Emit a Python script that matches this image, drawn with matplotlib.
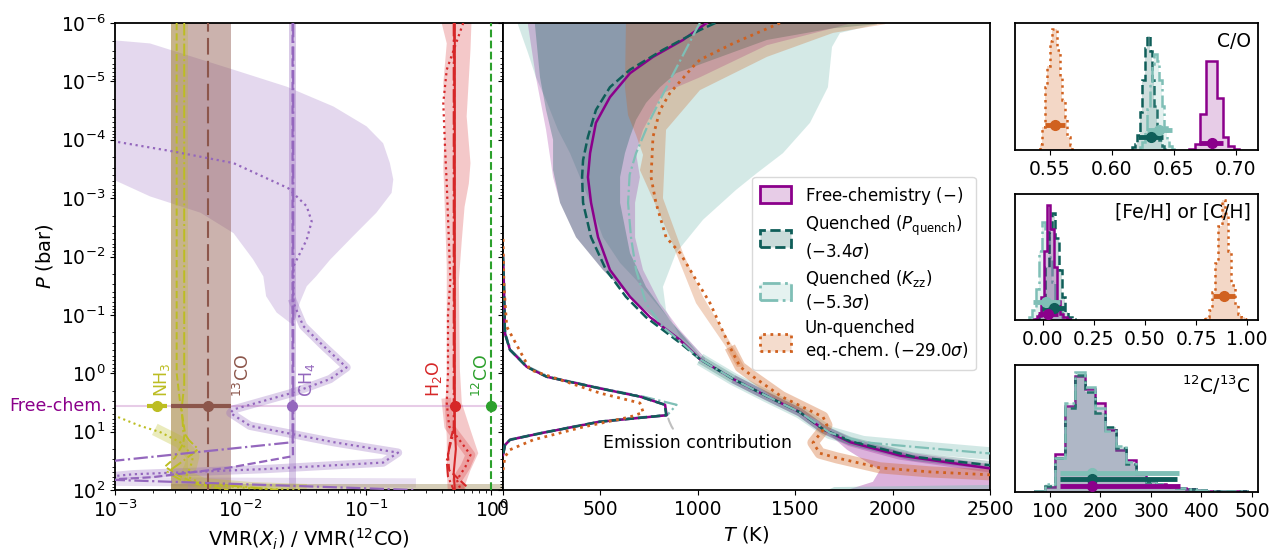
import numpy as np
import matplotlib
matplotlib.use('Agg')
import matplotlib.pyplot as plt
from matplotlib.patches import Patch

plt.rcParams['font.family'] = ['DejaVu Sans']
plt.rcParams['font.size'] = 12
plt.rcParams['xtick.labelsize'] = 13.5
plt.rcParams['ytick.labelsize'] = 13.5
plt.rcParams['axes.linewidth'] = 1.3

# ---------------- colours ----------------
C_FREE = '#8b008b'
C_PQ = '#0f5e59'
C_KZZ = '#7fbfb6'
C_EQ = '#d0611f'
C_NH3 = '#bcbd22'
C_13CO = '#8c564b'
C_CH4 = '#9467bd'
C_H2O = '#d62728'
C_12CO = '#2ca02c'

# ================= LEFT PANEL DATA (VMR / VMR(12CO), log10 P) =================
species = ['NH$_3$', '$^{13}$CO', 'CH$_4$', 'H$_2$O', '$^{12}$CO']
species_col = [C_NH3, C_13CO, C_CH4, C_H2O, C_12CO]
free_val = [2.15e-3, 5.5e-3, 0.0256, 0.51, 1.0]
free_lo = [1.8e-3, 2.8e-3, 0.0248, 0.50, 1.0]
free_hi = [2.6e-3, 8.4e-3, 0.0265, 0.52, 1.0]
logP_free = 0.56

# NH3
nh3_band = [2.8e-3, 3.85e-3]
nh3_pq_x = [3.1e-3, 3.1e-3, 3.3e-3, 3.6e-3, 3.5e-3, 3.0e-3, 2.5e-3, 3.2e-3, 4.5e-3, 8e-3]
nh3_pq_lp = [-6.0, 0.0, 0.5, 1.0, 1.2, 1.45, 1.6, 1.75, 1.9, 2.0]
nh3_kzz_x = [3.56e-3, 3.56e-3, 3.4e-3, 3.5e-3, 3.9e-3, 4.6e-3, 3.5e-3, 2.6e-3, 3.5e-3, 0.02]
nh3_kzz_lp = [-6.0, 0.2, 0.6, 1.0, 1.15, 1.3, 1.5, 1.7, 1.85, 2.0]
nh3_eq_x = [6e-4, 1.0e-3, 1.58e-3, 2.3e-3, 3.3e-3, 4.2e-3, 4.0e-3, 3.7e-3, 5e-3, 0.012, 0.03]
nh3_eq_lp = [0.55, 0.73, 0.9, 1.01, 1.18, 1.42, 1.6, 1.76, 1.9, 1.97, 2.0]

# 13CO
c13o_band = [2.8e-3, 8.4e-3]
c13o_line = 5.55e-3

# CH4
ch4_band = [0.0245, 0.0275]
ch4_pq_x = [0.026, 0.026, 0.0262, 0.008, 0.002, 0.0008]
ch4_pq_lp = [-6.0, 1.0, 1.42, 1.62, 1.78, 1.83]
ch4_kzz_x = [0.0263, 0.0263, 0.0008, 0.0008, 0.25]
ch4_kzz_lp = [-6.0, 1.18, 1.52, 1.82, 2.0]
ch4_eq_x = [5e-4, 1e-3, 2.9e-3, 8.8e-3, 0.024, 0.0337, 0.0369, 0.0337, 0.0264, 0.0264, 0.0316,
            0.0457, 0.070, 0.0517, 0.0264, 0.0088, 0.0083, 0.0119, 0.055, 0.18, 0.137, 0.0162,
            1.4e-3, 1e-3, 5e-4]
ch4_eq_lp = [-4.05, -3.97, -3.8, -3.6, -3.17, -2.86, -2.6, -2.29, -1.83, -1.21, -0.81,
             -0.47, -0.1, 0.10, 0.33, 0.62, 0.68, 0.9, 1.18, 1.36, 1.53, 1.64,
             1.73, 1.76, 1.78]
ch4_reg_x = [8e-4, 1.9e-3, 8.8e-3, 0.0233, 0.055, 0.101, 0.137, 0.155, 0.165, 0.16, 0.121, 0.079,
             0.052, 0.040, 0.0337, 0.0297, 0.0264, 0.0194, 0.016, 0.0152, 0.0126, 8.8e-3,
             4.8e-3, 1.9e-3, 8e-4]
ch4_reg_lp = [-5.72, -5.65, -5.2, -4.91, -4.57, -4.23, -3.94, -3.6, -3.32, -3.09, -2.75, -2.35,
              -1.95, -1.66, -1.49, -1.21, -0.82, -1.04, -1.32, -1.66, -1.95, -2.4,
              -2.75, -3.03, -3.40]

# H2O
h2o_band_lo_x = [0.39, 0.44, 0.413, 0.427, 0.413, 0.427, 0.44, 0.44, 0.427, 0.44, 0.44, 0.45]
h2o_band_lo_lp = [-6.1, -5.65, -4.97, -4.40, -3.54, -2.68, -1.83, 0.0, 0.63, 1.09, 1.66, 2.1]
h2o_band_hi_x = [0.60, 0.61, 0.68, 0.785, 0.68, 0.58, 0.56, 0.55, 0.58, 0.61, 0.66, 0.68, 0.634, 0.68, 0.695]
h2o_band_hi_lp = [2.1, 1.94, 1.66, 1.37, 0.97, 0.51, -0.06, -1.60, -2.28, -2.85, -3.25, -3.60, -4.40, -5.54, -6.1]
h2o_free_x = [0.51, 0.51, 0.52, 0.50, 0.51]
h2o_free_lp = [-6.0, 0.9, 1.3, 1.7, 2.0]
h2o_pq_x = [0.505, 0.505, 0.47, 0.45, 0.46, 0.64]
h2o_pq_lp = [-6.0, 0.9, 1.15, 1.4, 1.66, 1.95]
h2o_kzz_x = [0.50, 0.50, 0.46, 0.44, 0.45, 0.50]
h2o_kzz_lp = [-6.0, 1.0, 1.3, 1.5, 1.77, 2.0]
h2o_eq_x = [0.595, 0.44, 0.413, 0.427, 0.44, 0.455, 0.47, 0.45, 0.45, 0.44, 0.46, 0.61, 0.68, 0.62, 0.53, 0.57]
h2o_eq_lp = [-6.0, -5.2, -4.63, -3.83, -3.25, -2.4, -1.6, -1.0, 0.0, 0.51, 0.91, 1.26, 1.40, 1.60, 1.83, 2.0]

# 12CO
co12_line = 1.0

# ================= MIDDLE PANEL DATA (T in K, log10 P) =================
free_T = [1045, 924, 770, 652, 549, 477, 447, 436, 452, 488, 549, 652, 755, 909, 1011, 1182,
          1353, 1525, 1644, 1781, 2038, 2500, 2800]
free_lp = [-6.0, -5.71, -5.42, -5.14, -4.73, -4.29, -3.77, -3.36, -2.92, -2.33, -1.77, -1.31,
           -0.96, -0.57, -0.24, 0.10, 0.39, 0.67, 0.96, 1.18, 1.41, 1.63, 1.75]
pq_T = [1090, 1011, 821, 652, 549, 477, 436, 411, 406, 411, 452, 529, 631, 734, 909, 1011,
        1182, 1353, 1525, 1644, 1781, 2105, 2485, 2800]
pq_lp = [-6.0, -5.88, -5.54, -5.2, -4.9, -4.51, -4.05, -3.65, -3.36, -2.92, -2.33, -1.77,
         -1.31, -0.96, -0.52, -0.24, 0.10, 0.39, 0.67, 0.96, 1.16, 1.43, 1.57, 1.65]
kzz_T = [1011, 991, 857, 755, 683, 650, 642, 657, 683, 734, 821, 909, 1011, 1182, 1353, 1525,
         1678, 1848, 2105, 2485, 2800]
kzz_lp = [-6.0, -5.88, -5.02, -4.34, -3.77, -3.4, -2.92, -2.33, -1.77, -1.20, -0.79, -0.55,
          -0.24, 0.10, 0.39, 0.67, 1.02, 1.18, 1.26, 1.37, 1.42]
eq_T = [1422, 1181, 1011, 975, 857, 806, 770, 760, 785, 837, 909, 991, 1063, 1165, 1217, 1285,
        1430, 1643, 1663, 1591, 1627, 1714, 1935, 2192, 2500, 2800]
eq_lp = [-6.0, -5.65, -5.37, -5.25, -4.8, -4.51, -4.05, -3.36, -2.92, -2.33, -2.06, -1.60,
         -1.20, -0.45, -0.11, 0.06, 0.40, 0.75, 0.89, 1.19, 1.37, 1.45, 1.62, 1.69, 1.74, 1.77]

# uncertainty envelopes (upper atmosphere), lower-T edge then upper-T edge
kzz_env_T = [70, 77, 128, 169, 221, 282, 344, 395, 447, 513, 601, 683, 785, 888, 1011,
             1037, 909, 837, 821, 888, 1027, 1196, 1304, 1437, 1576, 1668, 1689, 1730, 1920, 1950]
kzz_env_lp = [-6.1, -5.97, -5.49, -5.07, -4.68, -4.17, -3.77, -3.36, -2.92, -2.33, -1.89, -1.60,
              -1.20, -0.79, -0.36, -0.26, -0.62, -1.08, -1.48, -2.06, -2.63, -3.14, -3.43, -3.77,
              -4.29, -4.90, -5.59, -5.83, -5.98, -6.1]
free_env_T = [128, 128, 169, 221, 257, 293, 375, 513, 652, 770, 909, 1037,
              1037, 909, 806, 719, 678, 678, 703, 683, 719, 821, 1011, 1355, 1694, 1900]
free_env_lp = [-6.1, -5.97, -5.07, -4.17, -3.36, -2.92, -2.33, -1.77, -1.31, -0.96, -0.52, -0.19,
               -0.26, -0.74, -1.20, -1.77, -2.33, -2.92, -3.36, -3.77, -4.17, -4.80, -5.07, -5.62,
               -5.91, -6.1]
pq_env_T = [164, 164, 190, 221, 257, 257, 293, 375, 513, 652, 770, 909, 1037,
            1011, 857, 734, 652, 601, 601, 626, 652, 683, 734, 806, 888, 1027, 1355, 1694, 1920, 1920]
pq_env_lp = [-6.1, -5.97, -5.07, -4.51, -4.0, -3.48, -2.92, -2.33, -1.77, -1.31, -0.96, -0.52, -0.19,
             -0.31, -0.91, -1.48, -2.06, -2.92, -3.36, -3.77, -4.05, -4.34, -4.63, -4.90, -5.14,
             -5.31, -5.71, -5.91, -5.98, -6.1]
eq_env_T = [631, 631, 626, 642, 683, 719, 703, 857, 888, 991, 1145, 1200,
            1240, 1181, 1027, 924, 821, 837, 1011, 1355, 1694, 1961, 2000]
eq_env_lp = [-6.1, -5.97, -4.90, -4.42, -4.08, -3.74, -3.48, -2.33, -2.06, -1.20, -0.45, -0.11,
             -0.11, -0.45, -1.31, -2.06, -3.0, -4.17, -4.85, -5.42, -5.83, -5.98, -6.1]
# deep free-chemistry envelope
free_deep_T = [1650, 1766, 1935, 1899, 1766, 1766, 2800, 2800, 2500, 2105, 1848, 1700]
free_deep_lp = [0.97, 1.31, 1.66, 1.86, 2.0, 2.1, 2.1, 1.62, 1.60, 1.40, 1.20, 1.02]
deep_strip_T = [1600, 1700, 2800, 2800]
deep_strip_lp = [2.1, 1.95, 1.9, 2.1]

# emission contribution functions (scaled into T units)
cf_free_T = [0, 5, 10, 36, 122, 224, 498, 703, 832, 840, 498, 190, 36, 10, 0]
cf_free_lp = [-2.0, -1.5, -0.68, -0.40, -0.11, 0.06, 0.26, 0.40, 0.54, 0.72, 0.83, 1.03, 1.14, 1.23, 1.40]
cf_pq_T = [0, 5, 10, 36, 122, 224, 498, 703, 830, 838, 498, 190, 36, 10, 0]
cf_pq_lp = [-2.0, -1.5, -0.68, -0.40, -0.11, 0.06, 0.26, 0.40, 0.54, 0.72, 0.83, 1.03, 1.14, 1.23, 1.40]
cf_kzz_T = [0, 5, 12, 40, 130, 235, 510, 720, 891, 845, 505, 195, 40, 12, 0]
cf_kzz_lp = [-2.0, -1.5, -0.68, -0.40, -0.11, 0.06, 0.26, 0.40, 0.54, 0.71, 0.82, 1.02, 1.13, 1.22, 1.40]
cf_eq_T = [0, 5, 19, 139, 498, 703, 720, 650, 412, 156, 36, 10, 0]
cf_eq_lp = [-2.3, -1.5, -0.80, -0.06, 0.34, 0.51, 0.67, 0.75, 0.92, 1.14, 1.31, 1.43, 1.66]

# ================= RIGHT PANELS: histograms =================
co_eq_start, co_eq_w = 0.5420, 0.0020
co_eq = [0.05, 0.18, 0.50, 0.66, 0.86, 0.955, 0.95, 0.79, 0.58, 0.39, 0.26, 0.10, 0.04]
co_pq_start, co_pq_w = 0.6165, 0.0020
co_pq = [0.02, 0.05, 0.12, 0.30, 0.55, 0.80, 0.90, 0.78, 0.55, 0.35, 0.18, 0.08, 0.03, 0.01]
co_kzz_start, co_kzz_w = 0.6225, 0.0020
co_kzz = [0.02, 0.06, 0.15, 0.32, 0.52, 0.68, 0.755, 0.70, 0.55, 0.35, 0.18, 0.08, 0.03, 0.01]
co_free_start, co_free_w = 0.6625, 0.0045
co_free = [0.01, 0.045, 0.28, 0.70, 0.70, 0.41, 0.10, 0.03, 0.01]
co_err = {  # median, lo, hi, height
    'eq': (0.554, 0.546, 0.562, 0.197),
    'pq': (0.6316, 0.6214, 0.6416, 0.105),
    'kzz': (0.6383, 0.6281, 0.6483, 0.158),
    'free': (0.6806, 0.6707, 0.6895, 0.053),
}

feh_free_start, feh_w = -0.042, 0.016
feh_free = [0.01, 0.03, 0.18, 0.55, 0.913, 0.72, 0.42, 0.15, 0.05, 0.02, 0.01]
feh_pq_start = -0.034
feh_pq = [0.01, 0.04, 0.15, 0.42, 0.70, 0.847, 0.65, 0.40, 0.18, 0.06, 0.02, 0.01]
feh_kzz_start = -0.066
feh_kzz = [0.02, 0.08, 0.25, 0.55, 0.78, 0.70, 0.50, 0.30, 0.15, 0.06, 0.02, 0.01]
feh_eq_start = 0.795
feh_eq = [0.02, 0.08, 0.22, 0.45, 0.75, 0.952, 0.85, 0.55, 0.28, 0.12, 0.05, 0.02, 0.01]
feh_err = {
    'eq': (0.886, 0.833, 0.939, 0.193),
    'kzz': (0.016, -0.046, 0.084, 0.146),
    'pq': (0.055, -0.005, 0.109, 0.098),
    'free': (0.028, -0.021, 0.076, 0.045),
}

c13_start, c13_w = 70, 20
c13_free = [0.005, 0.04, 0.30, 0.68, 0.91, 0.81, 0.70, 0.49, 0.33, 0.25, 0.145, 0.09, 0.06, 0.04,
            0.03, 0.02, 0.012, 0.01, 0.008, 0.006, 0.005]
c13_pq = [0.005, 0.05, 0.27, 0.66, 0.92, 0.79, 0.62, 0.51, 0.35, 0.22, 0.15, 0.08, 0.06, 0.04,
          0.03, 0.02, 0.012, 0.01, 0.008, 0.006, 0.005]
c13_kzz = [0.005, 0.06, 0.27, 0.70, 0.947, 0.83, 0.66, 0.48, 0.36, 0.24, 0.15, 0.09, 0.06, 0.04,
           0.03, 0.02, 0.012, 0.01, 0.008, 0.006, 0.005]
c13_err = {
    'kzz': (184, 120, 356, 0.15),
    'pq': (183, 120, 352, 0.10),
    'free': (183, 120, 358, 0.047),
}

# ================= FIGURE =================
W, H = 1272, 553
fig = plt.figure(figsize=(W / 100, H / 100), dpi=100)
ax1 = fig.add_axes([115 / W, (H - 490) / H, 388 / W, 467 / H])
ax2 = fig.add_axes([503 / W, (H - 490) / H, 487 / W, 467 / H], sharey=ax1)
ax3 = fig.add_axes([1015 / W, (H - 150) / H, 243 / W, 127 / H])
ax4 = fig.add_axes([1015 / W, (H - 320) / H, 243 / W, 126 / H])
ax5 = fig.add_axes([1015 / W, (H - 492) / H, 243 / W, 127 / H])


def P(lp):
    return 10 ** np.asarray(lp, dtype=float)


# ---------------- left panel ----------------
ax1.set_xscale('log')
ax1.set_yscale('log')

# CH4 broad region
ax1.fill(ch4_reg_x, P(ch4_reg_lp), color=C_CH4, alpha=0.25, lw=0, zorder=1)
# bottom stripes
ax1.fill([1e-3, 1e-3, 0.25, 0.25], P([1.78, 1.93, 1.96, 1.80]), color=C_CH4, alpha=0.2, lw=0, zorder=1)
ax1.fill([2.8e-3, 2.8e-3, 1.4, 1.4], P([1.9, 2.05, 2.05, 1.9]), color='#a39060', alpha=0.45, lw=0, zorder=1)
# constant bands
ax1.axvspan(*c13o_band, color=C_13CO, alpha=0.45, lw=0, zorder=1)
ax1.axvspan(*nh3_band, color=C_NH3, alpha=0.25, lw=0, zorder=1)
ax1.axvspan(*ch4_band, color=C_CH4, alpha=0.35, lw=0, zorder=1)
ax1.fill(h2o_band_lo_x + h2o_band_hi_x, P(h2o_band_lo_lp + h2o_band_hi_lp), color=C_H2O,
         alpha=0.25, lw=0, zorder=1)

# eq-chem thin bands (as translucent thick strokes)
sel = np.array(ch4_eq_lp) > -1.3
ax1.plot(np.array(ch4_eq_x)[sel], P(np.array(ch4_eq_lp)[sel]), color=C_CH4, alpha=0.3, lw=6,
         solid_joinstyle='round', zorder=1)
sel = np.array(nh3_eq_lp) > 1.0
ax1.plot(np.array(nh3_eq_x)[sel], P(np.array(nh3_eq_lp)[sel]), color=C_NH3, alpha=0.3, lw=9, zorder=1)
sel = np.array(h2o_eq_lp) > 0.5
ax1.plot(np.array(h2o_eq_x)[sel], P(np.array(h2o_eq_lp)[sel]), color=C_H2O, alpha=0.25, lw=7, zorder=1)

# profiles
ax1.plot(nh3_pq_x, P(nh3_pq_lp), color=C_NH3, ls='--', lw=1.4, zorder=3)
ax1.plot(nh3_kzz_x, P(nh3_kzz_lp), color=C_NH3, ls='-.', lw=1.4, zorder=3)
ax1.plot(nh3_eq_x, P(nh3_eq_lp), color=C_NH3, ls=':', lw=1.5, zorder=3)
ax1.axvline(c13o_line, color=C_13CO, ls=(0, (8, 3)), lw=1.5, zorder=3)
ax1.plot(ch4_pq_x, P(ch4_pq_lp), color=C_CH4, ls='--', lw=1.6, zorder=3)
ax1.plot(ch4_kzz_x, P(ch4_kzz_lp), color=C_CH4, ls='-.', lw=1.6, zorder=3)
ax1.plot(ch4_eq_x, P(ch4_eq_lp), color=C_CH4, ls=':', lw=1.6, zorder=3)
ax1.plot(h2o_free_x, P(h2o_free_lp), color=C_H2O, ls='-', lw=1.5, zorder=3)
ax1.plot(h2o_pq_x, P(h2o_pq_lp), color=C_H2O, ls='--', lw=1.5, zorder=3)
ax1.plot(h2o_kzz_x, P(h2o_kzz_lp), color=C_H2O, ls='-.', lw=1.5, zorder=3)
ax1.plot(h2o_eq_x, P(h2o_eq_lp), color=C_H2O, ls=':', lw=1.6, zorder=3)
ax1.axvline(co12_line, color=C_12CO, ls='--', lw=1.5, zorder=3)

# free-chemistry retrieved values
ax1.axhline(P(logP_free), color=C_FREE, alpha=0.2, lw=1.5, zorder=2)
label_x = [2.36e-3, 0.0104, 0.0337, 0.347, 0.843]
for i in range(len(species)):
    ax1.errorbar(free_val[i], P(logP_free),
                 xerr=[[free_val[i] - free_lo[i]], [free_hi[i] - free_val[i]]],
                 fmt='o', color=species_col[i], ms=7, elinewidth=3, capsize=0, zorder=5)
    ax1.text(label_x[i], P(0.40), species[i], rotation=90, ha='center', va='bottom',
             color=species_col[i], fontsize=12.5)
ax1.text(-0.02, P(logP_free), 'Free-chem.', transform=ax1.get_yaxis_transform(),
         ha='right', va='center', color=C_FREE, fontsize=12.5)

ax1.set_xlim(1e-3, 1.235)
ax1.set_ylim(1e2, 1e-6)
ax1.set_yticks(P([-6, -5, -4, -3, -2, -1, 0, 1, 2]))
ax1.set_xlabel('VMR($X_i$) / VMR($^{12}$CO)', fontsize=14)
ax1.set_ylabel('$P$ (bar)', fontsize=14)

# ---------------- middle panel ----------------
ax2.fill(kzz_env_T, P(kzz_env_lp), color=C_KZZ, alpha=0.33, lw=0, zorder=1)
ax2.fill(free_env_T, P(free_env_lp), color=C_FREE, alpha=0.22, lw=0, zorder=1)
ax2.fill(pq_env_T, P(pq_env_lp), color=C_PQ, alpha=0.31, lw=0, zorder=1)
ax2.fill(eq_env_T, P(eq_env_lp), color=C_EQ, alpha=0.28, lw=0, zorder=1)
ax2.fill(free_deep_T, P(free_deep_lp), color=C_FREE, alpha=0.3, lw=0, zorder=1)
ax2.fill(deep_strip_T, P(deep_strip_lp), color=C_KZZ, alpha=0.45, lw=0, zorder=1)

for Tarr, lparr, col, a, w, lim in [(kzz_T, kzz_lp, C_KZZ, 0.35, 9, -0.3),
                                    (free_T, free_lp, C_FREE, 0.25, 6, -0.2),
                                    (pq_T, pq_lp, C_PQ, 0.25, 6, -0.3),
                                    (eq_T, eq_lp, C_EQ, 0.35, 8, -0.5)]:
    sel = np.array(lparr) > lim
    ax2.plot(np.array(Tarr)[sel], P(np.array(lparr)[sel]), color=col, alpha=a, lw=w,
             solid_joinstyle='round', solid_capstyle='butt', zorder=2)

ax2.plot(free_T, P(free_lp), color=C_FREE, ls='-', lw=1.8, zorder=4)
ax2.plot(pq_T, P(pq_lp), color=C_PQ, ls='--', lw=1.8, zorder=4)
ax2.plot(kzz_T, P(kzz_lp), color=C_KZZ, ls='-.', lw=1.6, zorder=4)
ax2.plot(eq_T, P(eq_lp), color=C_EQ, ls=':', lw=2.0, zorder=4)

ax2.plot(cf_kzz_T, P(cf_kzz_lp), color=C_KZZ, ls='-.', lw=1.6, zorder=4)
ax2.plot(cf_free_T, P(cf_free_lp), color=C_FREE, ls='-', lw=1.8, zorder=4)
ax2.plot(cf_pq_T, P(cf_pq_lp), color=C_PQ, ls='--', lw=1.8, zorder=4)
ax2.plot(cf_eq_T, P(cf_eq_lp), color=C_EQ, ls=':', lw=2.0, zorder=4)

ax2.annotate('Emission contribution', xy=(845, P(0.73)), xytext=(1000, P(1.19)),
             ha='center', va='center', fontsize=12.5,
             arrowprops=dict(arrowstyle='-', color='0.75', lw=1.5,
                             connectionstyle='arc3,rad=-0.35', shrinkA=2, shrinkB=2))

handles = [Patch(facecolor=(0.545, 0.0, 0.545, 0.2), edgecolor=C_FREE, lw=2, ls='-'),
           Patch(facecolor=(0.059, 0.369, 0.349, 0.22), edgecolor=C_PQ, lw=2, ls='--'),
           Patch(facecolor=(0.498, 0.749, 0.714, 0.2), edgecolor=C_KZZ, lw=2, ls='-.'),
           Patch(facecolor=(0.816, 0.380, 0.122, 0.22), edgecolor=C_EQ, lw=2, ls=':')]
labels = ['Free-chemistry ($-$)',
          'Quenched ($P_\\mathrm{quench}$)\n($-3.4\\sigma$)',
          'Quenched ($K_\\mathrm{zz}$)\n($-5.3\\sigma$)',
          'Un-quenched\neq.-chem. ($-29.0\\sigma$)']
leg = ax2.legend(handles, labels, loc='upper right', bbox_to_anchor=(0.988, 0.688), fontsize=12,
                 handlelength=1.9, handleheight=1.2, labelspacing=0.42, framealpha=1,
                 edgecolor='0.85', borderpad=0.45)
leg.set_zorder(10)

ax2.set_xlim(0, 2500)
ax2.set_xticks([0, 500, 1000, 1500, 2000, 2500])
ax2.tick_params(labelleft=False)
ax2.set_xlabel('$T$ (K)', fontsize=14)


# ---------------- right panels ----------------
def hist(ax, start, w, counts, col, ls, fa):
    edges = start + w * np.arange(len(counts) + 1)
    ax.stairs(counts, edges, fill=True, color=col, alpha=fa, lw=0)
    ax.stairs(counts, edges, color=col, ls=ls, lw=1.8)


def err(ax, vals, col):
    m, lo, hi, h = vals
    ax.errorbar(m, h, xerr=[[m - lo], [hi - m]], fmt='o', color=col, ms=7, elinewidth=3.5,
                capsize=0, zorder=5)


hist(ax3, co_eq_start, co_eq_w, co_eq, C_EQ, ':', 0.25)
hist(ax3, co_pq_start, co_pq_w, co_pq, C_PQ, '--', 0.2)
hist(ax3, co_kzz_start, co_kzz_w, co_kzz, C_KZZ, '-.', 0.2)
hist(ax3, co_free_start, co_free_w, co_free, C_FREE, '-', 0.2)
err(ax3, co_err['eq'], C_EQ)
err(ax3, co_err['kzz'], C_KZZ)
err(ax3, co_err['pq'], C_PQ)
err(ax3, co_err['free'], C_FREE)
ax3.set_xlim(0.522, 0.718)
ax3.set_xticks([0.55, 0.60, 0.65, 0.70])
ax3.text(0.97, 0.93, 'C/O', transform=ax3.transAxes, ha='right', va='top', fontsize=13.5)

hist(ax4, feh_eq_start, feh_w, feh_eq, C_EQ, ':', 0.25)
hist(ax4, feh_kzz_start, feh_w, feh_kzz, C_KZZ, '-.', 0.2)
hist(ax4, feh_pq_start, feh_w, feh_pq, C_PQ, '--', 0.2)
hist(ax4, feh_free_start, feh_w, feh_free, C_FREE, '-', 0.2)
err(ax4, feh_err['eq'], C_EQ)
err(ax4, feh_err['kzz'], C_KZZ)
err(ax4, feh_err['pq'], C_PQ)
err(ax4, feh_err['free'], C_FREE)
ax4.set_xlim(-0.135, 1.053)
ax4.set_xticks([0.0, 0.25, 0.5, 0.75, 1.0])
ax4.text(0.97, 0.93, '[Fe/H] or [C/H]', transform=ax4.transAxes, ha='right', va='top', fontsize=13.5)

hist(ax5, c13_start, c13_w, c13_free, C_FREE, '-', 0.2)
hist(ax5, c13_start, c13_w, c13_pq, C_PQ, '--', 0.2)
hist(ax5, c13_start, c13_w, c13_kzz, C_KZZ, '-.', 0.2)
err(ax5, c13_err['kzz'], C_KZZ)
err(ax5, c13_err['pq'], C_PQ)
err(ax5, c13_err['free'], C_FREE)
ax5.set_xlim(31, 512)
ax5.set_xticks([100, 200, 300, 400, 500])
ax5.text(0.97, 0.93, '$^{12}$C/$^{13}$C', transform=ax5.transAxes, ha='right', va='top', fontsize=13.5)

for ax in (ax3, ax4, ax5):
    ax.set_ylim(0, 1)
    ax.set_yticks([])

fig.savefig('out.png', dpi=100)
